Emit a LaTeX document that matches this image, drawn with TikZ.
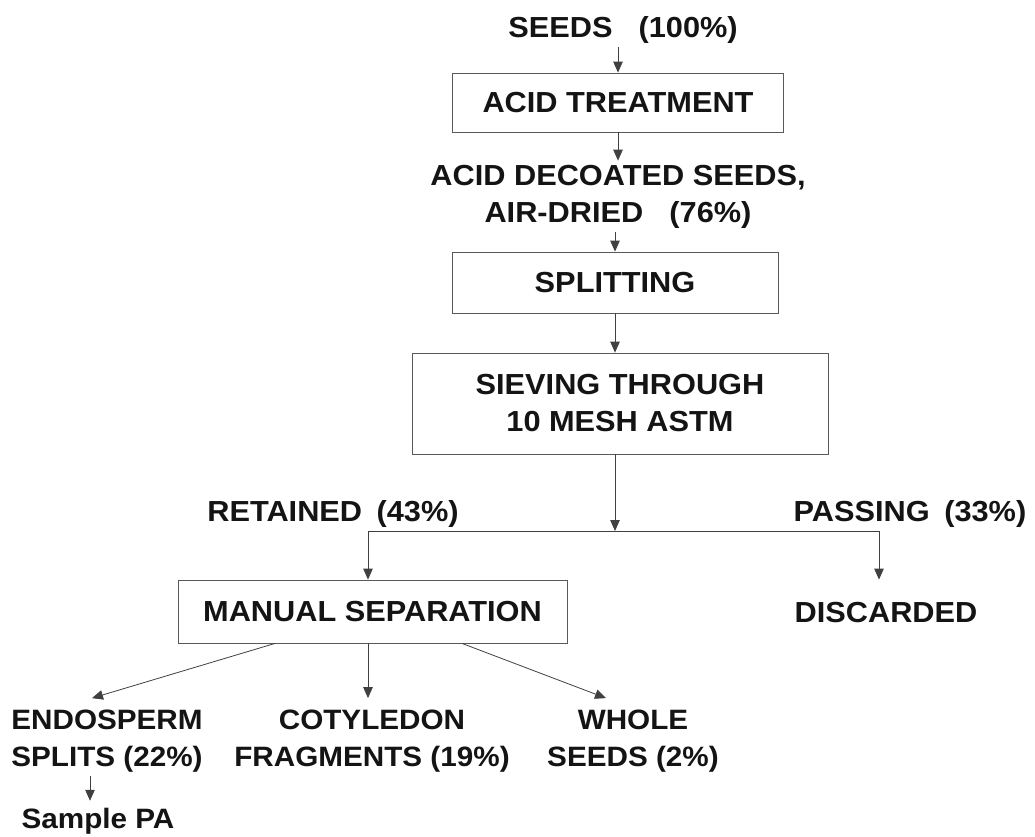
\documentclass[tikz,border=0pt]{standalone}
\usepackage{fontspec}
\setmainfont{Liberation Sans}[FakeStretch=1.06]
\usetikzlibrary{arrows.meta}
\tikzset{
  every node/.style={font=\bfseries\fontsize{29}{37}\selectfont, text=black!92},
  stepbox/.style={draw=black!65, line width=0.8pt, inner sep=0pt},
  lbl/.style={inner sep=4pt, align=center},
  sub/.style={inner sep=3pt, align=center, font=\bfseries\fontsize{28}{37}\selectfont},
  conn/.style={draw=black!75, line width=0.8pt},
  arr/.style={conn, -{Triangle[length=11pt,width=9.5pt]}}
}
\begin{document}
\begin{tikzpicture}[x=1pt,y=-1pt]
\fill[white] (0,0) rectangle (1035,836);
\useasboundingbox (0,0) rectangle (1035,836);

% main column
\node[lbl] (seeds) at (623,29.5) {SEEDS\hspace{0.9em}(100\%)};
\node[stepbox, minimum width=331pt, minimum height=59pt] (acid) at (618,102.5) {ACID TREATMENT};
\node[lbl] (dec) at (618,196.5) {ACID DECOATED SEEDS,\\AIR-DRIED\hspace{0.9em}(76\%)};
\node[stepbox, minimum width=326pt, minimum height=61pt] (split) at (615,282.5) {SPLITTING};
\node[stepbox, minimum width=416pt, minimum height=101pt, align=center] (sieve) at (620,403.5) {SIEVING THROUGH\\10 MESH ASTM};

\coordinate (j)  at (615,531);
\coordinate (jl) at (368,531);
\coordinate (jr) at (879,531);

\node[lbl] (ret) at (333,514) {RETAINED\hspace{0.5em}(43\%)};
\node[lbl] (pass) at (910,514) {PASSING\hspace{0.5em}(33\%)};

\node[stepbox, minimum width=389pt, minimum height=63pt] (manual) at (372.5,611.5) {MANUAL SEPARATION};
\node[lbl] (disc) at (886,612.5) {DISCARDED};

\node[sub] (endo) at (107,741.5) {ENDOSPERM\\SPLITS (22\%)};
\node[sub] (coty) at (372,741.5) {COTYLEDON\\FRAGMENTS (19\%)};
\node[sub] (whole) at (633,741.5) {WHOLE\\SEEDS (2\%)};
\node[sub] (sample) at (98,821) {Sample PA};

% connectors
\draw[arr] (seeds.south -| acid.north) -- (acid.north);
\draw[arr] (acid.south) -- (dec.north -| acid.south);
\draw[arr] (dec.south -| split.north) -- (split.north);
\draw[arr] (split.south) -- (sieve.north -| split.south);
\draw[arr] (sieve.south -| j) -- (j);
\draw[conn] (jl) -- (jr);
\draw[arr] (jl) -- (manual.north -| jl);
\draw[arr] (jr) -- (jr |- manual.north);

\draw[arr] ([xshift=-97.5pt]manual.south) -- ([xshift=-15pt,yshift=9pt]endo.north);
\draw[arr] (manual.south -| jl) -- ([yshift=9pt]coty.north -| jl);
\draw[arr] ([xshift=89.5pt]manual.south) -- ([xshift=-27pt,yshift=9pt]whole.north);
\draw[arr] ([xshift=-17pt]endo.south) -- ([xshift=-8pt,yshift=4pt]sample.north);
\end{tikzpicture}
\end{document}
